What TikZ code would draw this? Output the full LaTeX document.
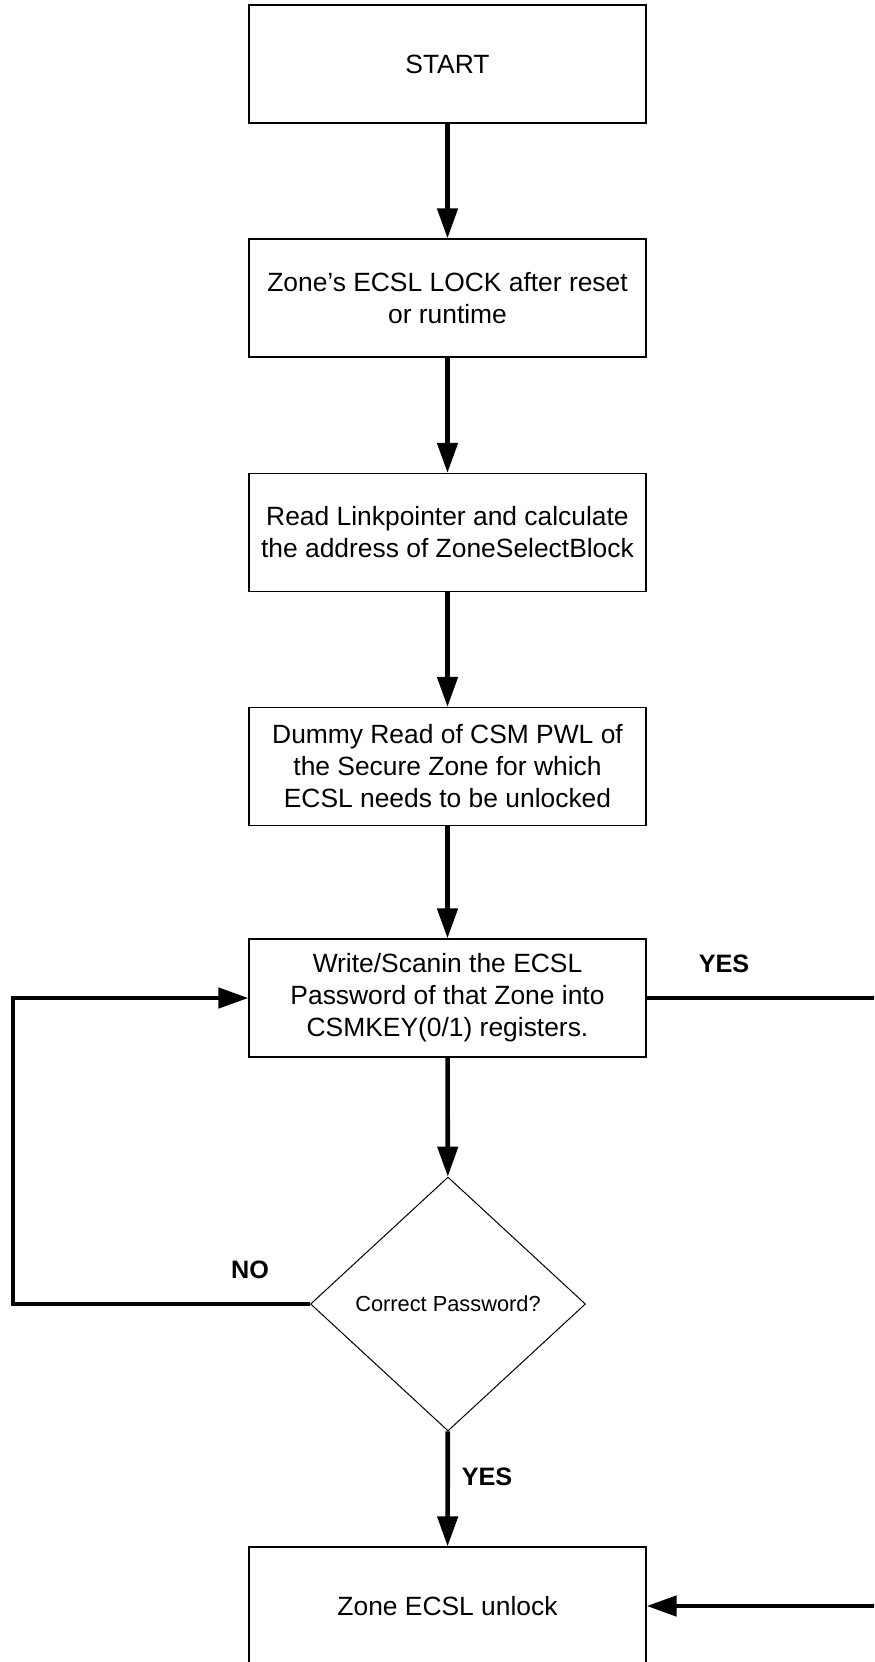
\documentclass[tikz,border=0pt]{standalone}
\usepackage{fontspec}
\setmainfont{Liberation Sans}
\usetikzlibrary{shapes.geometric,arrows.meta}

\begin{document}
\begin{tikzpicture}[x=0.5pt,y=-0.5pt,
    box/.style={draw, line width=0.6pt, minimum width=198.5pt, minimum height=59pt,
      align=center, font=\fontsize{13.2}{16}\selectfont},
    decision/.style={draw, diamond, line width=0.5pt, aspect=1.08, inner sep=0pt,
      minimum width=137.5pt, minimum height=127pt, font=\fontsize{10.9}{13}\selectfont},
    flow/.style={line width=2.3pt, -{Triangle[width=10pt,length=15pt]}},
    flowline/.style={line width=2.3pt},
    answer/.style={font=\fontsize{12.6}{15}\selectfont\bfseries}]
      \useasboundingbox (0,0) rectangle (874,1662);
      \clip (0,0) rectangle (874,1662);

      % Etapes
      \node[box] (start) at (447.5,64) {START};
      \node[box] (lock) at (447.5,298) {Zone’s ECSL LOCK after reset\\or runtime};
      \node[box] (read) at (447.5,532.5) {Read Linkpointer and calculate\\the address of ZoneSelectBlock};
      \node[box] (dummy) at (447.5,766.5) {Dummy Read of CSM PWL of\\the Secure Zone for which\\ECSL needs to be unlocked};
      \node[box] (write) at (447.5,998) {Write/Scanin the ECSL\\Password of that Zone into\\CSMKEY(0/1) registers.};
      \node[decision] (check) at (448,1304) {Correct Password?};
      \node[box] (unlock) at (447.5,1606) {Zone ECSL unlock};

      % Bords
      \coordinate (loopx) at (13,0);
      \coordinate (redge) at (880,0);

      % Fleches
      \draw[flow] (start) -- (lock);
      \draw[flow] (lock) -- (read);
      \draw[flow] (read) -- (dummy);
      \draw[flow] (dummy) -- (write);
      \draw[flow] (write) -- (check);
      \draw[flow] (check) -- (unlock);
      \draw[flow] (check.west) -- (check.west -| loopx) |- (write.west);
      \draw[flowline] (write.east) -- (write.east -| redge);
      \draw[flow] (unlock.east -| redge) -- (unlock.east);

      % Reponses
      \node[answer] (yesr) at (724,964) {YES};
      \node[answer] (no) at (250,1270) {NO};
      \node[answer] (yesb) at (487,1477) {YES};
\end{tikzpicture}
\end{document}
